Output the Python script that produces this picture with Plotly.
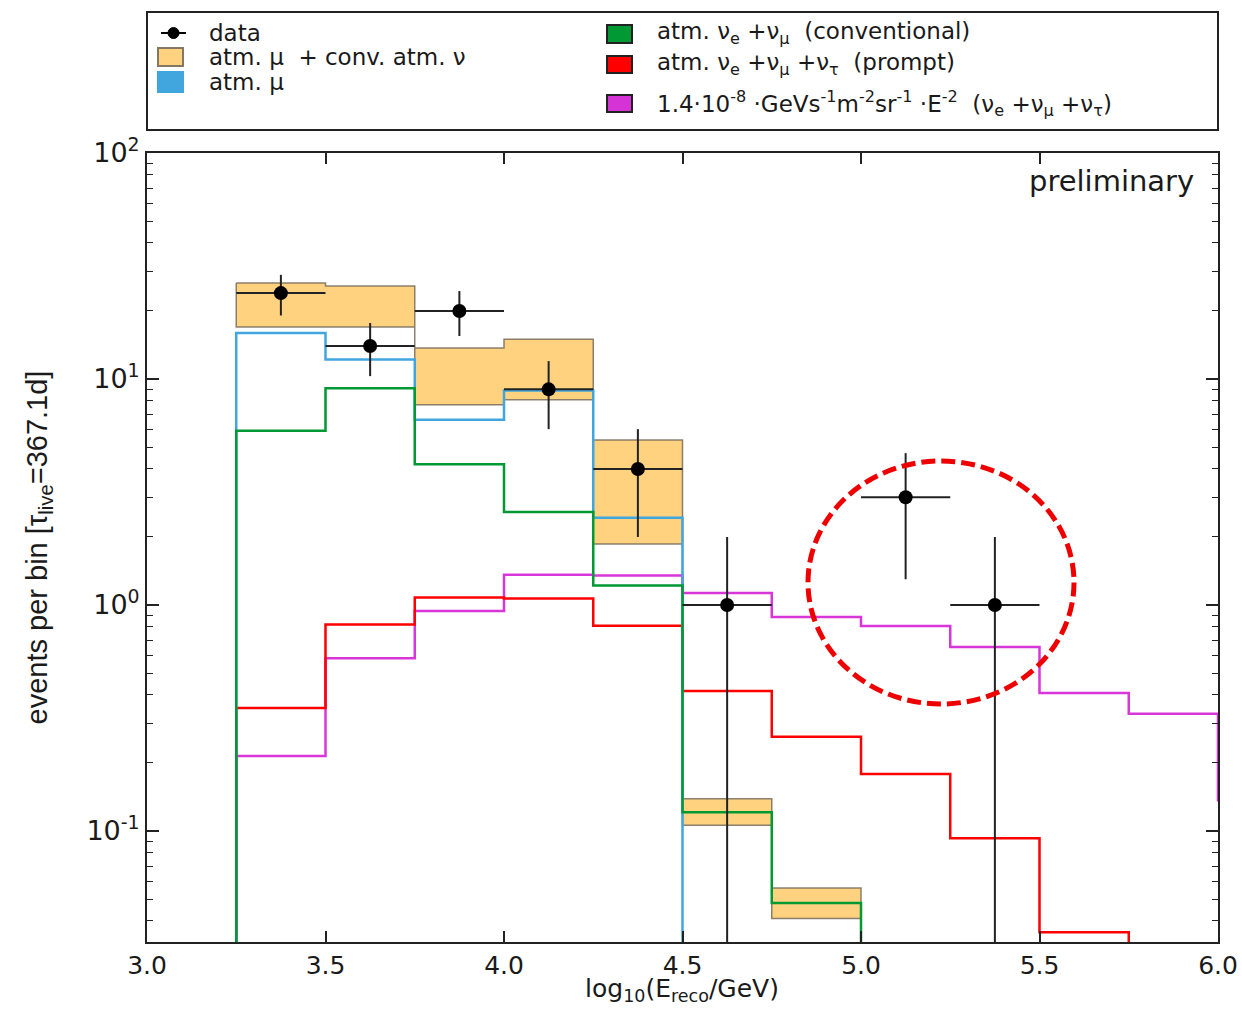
import plotly.graph_objects as go

# ---------------- data ----------------
bin_edges = [3.0, 3.25, 3.5, 3.75, 4.0, 4.25, 4.5, 4.75, 5.0, 5.25, 5.5, 5.75, 6.0, 6.25]
FLOOR = 1e-3  # empty bin (below visible range)

atm_mu = [FLOOR, 16.0, 12.2, 6.6, 8.9, 2.43, FLOOR, FLOOR, FLOOR, FLOOR, FLOOR, FLOOR, FLOOR]
conv_nu = [FLOOR, 5.9, 9.1, 4.2, 2.58, 1.22, 0.121, 0.048, FLOOR, FLOOR, FLOOR, FLOOR, FLOOR]
prompt_nu = [FLOOR, 0.35, 0.82, 1.08, 1.07, 0.81, 0.416, 0.261, 0.179, 0.093, 0.0357, 0.02, FLOOR]
astro_e2 = [FLOOR, 0.215, 0.582, 0.94, 1.36, 1.35, 1.13, 0.885, 0.807, 0.652, 0.408, 0.33, 0.137]

# uncertainty band of atm. mu + conv. atm. nu (bins 3.25 .. 5.0)
band_edges = [3.25, 3.5, 3.75, 4.0, 4.25, 4.5, 4.75, 5.0]
band_hi = [26.6, 25.8, 13.7, 15.0, 5.37, 0.139, 0.056]
band_lo = [17.0, 17.0, 7.7, 8.1, 1.86, 0.106, 0.041]

data_x = [3.375, 3.625, 3.875, 4.125, 4.375, 4.625, 5.125, 5.375]
data_y = [24, 14, 20, 9, 4, 1, 3, 1]
data_err_up = [4.9, 3.7, 4.5, 3.0, 2.0, 1.0, 1.7, 1.0]
data_err_dn = [4.9, 3.7, 4.5, 3.0, 2.0, 0.9999, 1.7, 0.9999]
data_xerr = 0.125

x_ticks = [3.0, 3.5, 4.0, 4.5, 5.0, 5.5, 6.0]
x_ticktext = ["3.0", "3.5", "4.0", "4.5", "5.0", "5.5", "6.0"]
y_ticks = [0.1, 1, 10, 100]
y_ticktext = ["10<sup>-1</sup>", "10<sup>0</sup>", "10<sup>1</sup>", "10<sup>2</sup>"]
y_minor = [m * d for d in [0.01, 0.1, 1, 10] for m in range(2, 10)]

legend_labels = [
    "data",
    "atm. μ&nbsp; + conv. atm. ν",
    "atm. μ",
    "atm. ν<sub>e</sub> +ν<sub>μ</sub>&nbsp; (conventional)",
    "atm. ν<sub>e</sub> +ν<sub>μ</sub> +ν<sub>τ</sub>&nbsp; (prompt)",
    "1.4·10<sup>-8</sup> ·GeVs<sup>-1</sup>m<sup>-2</sup>sr<sup>-1</sup> ·E<sup>-2</sup>&nbsp; (ν<sub>e</sub> +ν<sub>μ</sub> +ν<sub>τ</sub>)",
]
x_title = "log<sub>10</sub>(E<sub>reco</sub>/GeV)"
y_title = "events per bin [τ<sub>live</sub>=367.1d]"

# ---------------- styles ----------------
C_BAND = "#FFD27F"
C_BAND_EDGE = "rgba(120,108,90,0.85)"
C_BLUE = "#41A6DD"
C_GREEN = "#009933"
C_RED = "#FF0000"
C_MAG = "#D936D9"
C_TXT = "#1a1a1a"
FONT_H = "DejaVu Sans"

W, H = 1242, 1009
L, R, T, B = 147, 24, 153, 67


def px(xp):
    return (xp - L) / (W - L - R)


def py(yp):
    return (H - B - yp) / (H - B - T)


def step(values):
    return bin_edges, list(values) + [values[-1]]


fig = go.Figure()

# band polygon
bx, by = [], []
for i, v in enumerate(band_hi):
    bx += [band_edges[i], band_edges[i + 1]]
    by += [v, v]
for i in reversed(range(len(band_lo))):
    bx += [band_edges[i + 1], band_edges[i]]
    by += [band_lo[i], band_lo[i]]
bx.append(bx[0])
by.append(by[0])
fig.add_trace(go.Scatter(x=bx, y=by, mode="lines", fill="toself", fillcolor=C_BAND,
                         line=dict(color=C_BAND_EDGE, width=1.5), showlegend=False,
                         hoverinfo="skip"))

for vals, col in [(astro_e2, C_MAG), (prompt_nu, C_RED), (atm_mu, C_BLUE), (conv_nu, C_GREEN)]:
    xs, ys = step(vals)
    fig.add_trace(go.Scatter(x=xs, y=ys, mode="lines", line=dict(color=col, width=2.5, shape="hv"),
                             showlegend=False))

fig.add_trace(go.Scatter(
    x=data_x, y=data_y, mode="markers",
    marker=dict(color="black", size=14),
    error_x=dict(type="constant", value=data_xerr, width=0, thickness=2, color="#222"),
    error_y=dict(type="data", array=data_err_up, arrayminus=data_err_dn, symmetric=False,
                 width=0, thickness=2, color="#222"),
    showlegend=False,
))

shapes = []
annotations = []

# manual legend box
shapes.append(dict(type="rect", xref="paper", yref="paper", x0=px(147), x1=px(1218),
                   y0=py(130), y1=py(12), line=dict(color="#222", width=2), fillcolor="white"))

# data key
shapes.append(dict(type="line", xref="paper", yref="paper", x0=px(161), x1=px(186),
                   y0=py(33), y1=py(33), line=dict(color="black", width=2)))
shapes.append(dict(type="circle", xref="paper", yref="paper", x0=px(168), x1=px(179),
                   y0=py(38.5), y1=py(27.5), fillcolor="black", line=dict(color="black", width=1)))

key_boxes = [
    (158, 183, 48, 66, C_BAND, "rgba(120,108,90,0.9)"),
    (158, 183, 72, 92, C_BLUE, C_BLUE),
    (607, 632, 25, 43, C_GREEN, "#222"),
    (607, 632, 56, 73, C_RED, "#222"),
    (607, 632, 95, 112, "#D633D6", "#222"),
]
for x0, x1, y0, y1, fc, lc in key_boxes:
    shapes.append(dict(type="rect", xref="paper", yref="paper", x0=px(x0), x1=px(x1),
                       y0=py(y1), y1=py(y0), fillcolor=fc, line=dict(color=lc, width=2)))

label_pos = [(207, 33), (207, 57), (207, 82), (655, 33), (655, 64), (655, 103)]
for (xp_, yp_), txt in zip(label_pos, legend_labels):
    annotations.append(dict(x=px(xp_), y=py(yp_), xref="paper", yref="paper", text=txt,
                            showarrow=False, xanchor="left", yanchor="middle",
                            font=dict(family=FONT_H, size=23, color=C_TXT)))

# preliminary label
annotations.append(dict(x=px(1196), y=py(181), xref="paper", yref="paper", text="preliminary",
                        showarrow=False, xanchor="right", yanchor="middle",
                        font=dict(family=FONT_H, size=29, color=C_TXT)))

# x-axis title (as annotation to control its position)
annotations.append(dict(x=px(682), y=py(1007), xref="paper", yref="paper", text=x_title,
                        showarrow=False, xanchor="center", yanchor="bottom", borderpad=0,
                        font=dict(family=FONT_H, size=25, color=C_TXT)))

# dashed red circle
shapes.append(dict(type="circle", xref="paper", yref="paper", layer="above",
                   x0=px(808), x1=px(1074), y0=py(704), y1=py(461),
                   line=dict(color="#EE0000", width=5, dash="14px,6px")))

fig.update_layout(
    width=W, height=H,
    margin=dict(l=L, r=R, t=T, b=B, autoexpand=False),
    paper_bgcolor="white", plot_bgcolor="white",
    shapes=shapes, annotations=annotations,
    showlegend=False,
    font=dict(family=FONT_H, color=C_TXT),
)

fig.update_xaxes(
    range=[3.0, 6.0], tickvals=x_ticks, ticktext=x_ticktext,
    ticks="inside", ticklen=11, tickwidth=1.5, tickcolor="#222",
    showline=True, linecolor="#222", linewidth=2, mirror="ticks",
    showgrid=False, zeroline=False,
    tickfont=dict(family=FONT_H, size=25, color=C_TXT),
)

fig.update_yaxes(
    type="log", range=[-1.491, 2.0], tickvals=y_ticks, ticktext=y_ticktext,
    ticks="inside", ticklen=12, tickwidth=1.5, tickcolor="#222",
    minor=dict(tickvals=y_minor, ticks="inside", ticklen=6, tickwidth=1.2, tickcolor="#222", showgrid=False),
    showline=True, linecolor="#222", linewidth=2, mirror="ticks",
    showgrid=False, zeroline=False,
    tickfont=dict(family=FONT_H, size=27, color=C_TXT),
    title=dict(text=y_title, standoff=30,
               font=dict(family="Liberation Sans", size=29, color=C_TXT)),
)

fig.write_html("out.html")
